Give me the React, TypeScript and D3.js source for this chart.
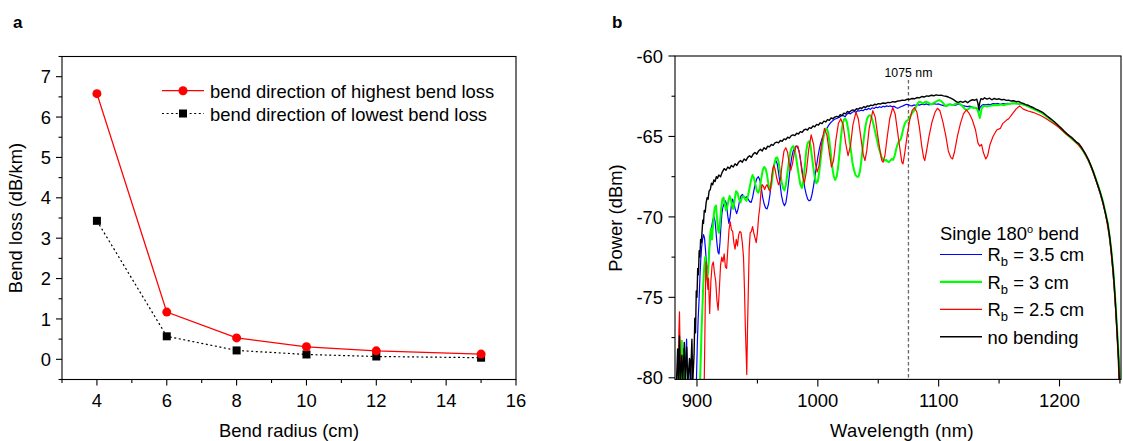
import React from 'react';
import * as d3 from 'd3';

// ---------- Panel a data ----------
const radius = [4, 6, 8, 10, 12, 15];
const lossHighest = [6.58, 1.17, 0.53, 0.31, 0.21, 0.13];
const lossLowest = [3.43, 0.57, 0.22, 0.12, 0.07, 0.04];
const aXMajor = [4, 6, 8, 10, 12, 14, 16];
const aXMinor = [3, 5, 7, 9, 11, 13, 15];
const aYMajor = [0, 1, 2, 3, 4, 5, 6, 7];
const aYMinor = [-0.5, 0.5, 1.5, 2.5, 3.5, 4.5, 5.5, 6.5, 7.5];

// ---------- Panel b data ----------
const bXMajor = [900, 1000, 1100, 1200];
const bXMinor = [950, 1050, 1150, 1250];
const bYMajor = [-60, -65, -70, -75, -80];
const bYMinor = [-62.5, -67.5, -72.5, -77.5];
const markerWavelength = 1075;

type P = [number, number];

const specNoBend: P[] = [
  [883,-80.3],[884,-78.2],[884.6,-80.3],[885.5,-77.4],[886.2,-80.3],[887.5,-78.6],[888.2,-80.3],[889.5,-77.8],[890.2,-80.3],[891.5,-78.1],[892.3,-80.3],[893.8,-78.8],[894.5,-80.3],[895.8,-77.6],[896.5,-80.3],[897.6,-78.5],[898.2,-76.3],[898.8,-77.2],[899.4,-74.6],[900,-75.0],[900.6,-73.2],[901.2,-73.6],[901.8,-72.1],[902.4,-72.5],[903,-71.4],[903.6,-71.6],[904.2,-70.9],[904.8,-70.2],[905.4,-70.4],[906,-69.6],[906.8,-69.7],[907.6,-69.1],[908.4,-68.8],[909.2,-68.9],[910,-68.4],[911,-68.3],[912,-67.9],[913,-68.0],[914,-67.7],[915,-67.8],[916,-67.5],[917,-67.6],[918,-67.4],[919.5,-67.5],[921,-67.2],[922.5,-67.0],[924,-67.1],[925.5,-66.9],[927,-67.0],[928.5,-66.8],[930,-66.9],[931.5,-66.7],[933,-66.8],[934.5,-66.6],[936,-66.5],[937.5,-66.6],[939,-66.4],[940.5,-66.5],[942,-66.3],[943.5,-66.2],[945,-66.3],[946.5,-66.1],[948,-66.0],[949.5,-66.1],[951,-65.9],[952.5,-65.8],[954,-65.9],[955.5,-65.7],[957,-65.8],[958.5,-65.6],[960,-65.65],[961.5,-65.5],[963,-65.55],[964.5,-65.4],[966,-65.35],[967.5,-65.4],[969,-65.25],[970.5,-65.3],[972,-65.15],[973.5,-65.2],[975,-65.05],[976.5,-65.1],[978,-64.95],[979.5,-64.9],[981,-64.95],[982.5,-64.8],[984,-64.85],[985.5,-64.7],[987,-64.75],[988.5,-64.6],[990,-64.55],[991.5,-64.6],[993,-64.45],[994.5,-64.5],[996,-64.35],[997.5,-64.4],[999,-64.25],[1000.5,-64.3],[1002,-64.15],[1003.5,-64.2],[1005,-64.05],[1006.5,-64.1],[1008,-63.95],[1009.5,-64.0],[1011,-63.85],[1012.5,-63.9],[1014,-63.8],[1015.5,-63.75],[1017,-63.8],[1018.5,-63.65],[1020,-63.7],[1021.5,-63.55],[1023,-63.6],[1024.5,-63.45],[1026,-63.5],[1027.5,-63.4],[1029,-63.35],[1030.5,-63.4],[1032,-63.28],[1033.5,-63.3],[1035,-63.22],[1036.5,-63.25],[1038,-63.15],[1039.5,-63.2],[1041,-63.1],[1042.5,-63.12],[1044,-63.05],[1045.5,-63.08],[1047,-63.0],[1048.5,-63.03],[1050,-62.96],[1052,-62.98],[1054,-62.92],[1056,-62.95],[1058,-62.88],[1060,-62.9],[1062,-62.84],[1064,-62.86],[1066,-62.8],[1068,-62.78],[1070,-62.74],[1072,-62.76],[1074,-62.68],[1076,-62.7],[1078,-62.64],[1080,-62.66],[1082,-62.58],[1084,-62.6],[1086,-62.52],[1088,-62.55],[1090,-62.48],[1092,-62.5],[1094,-62.44],[1096,-62.47],[1098,-62.42],[1100,-62.45],[1102,-62.43],[1104,-62.48],[1106,-62.5],[1108,-62.55],[1110,-62.62],[1112,-62.7],[1114,-62.8],[1116,-62.9],[1118,-62.82],[1120,-62.88],[1122,-62.8],[1124,-62.9],[1126,-62.78],[1128,-62.72],[1130,-62.75],[1131.5,-62.68],[1132.5,-62.95],[1133.2,-63.3],[1134,-62.9],[1135,-62.65],[1136.5,-62.7],[1138,-62.6],[1140,-62.68],[1142,-62.62],[1144,-62.72],[1146,-62.64],[1148,-62.7],[1150,-62.66],[1152,-62.72],[1154,-62.7],[1156,-62.76],[1158,-62.74],[1160,-62.8],[1162,-62.78],[1164,-62.84],[1166,-62.82],[1168,-62.9],[1170,-62.95],
  [1172,-63.02],[1174,-63.06],[1176,-63.14],[1178,-63.2],[1180,-63.28],[1182,-63.35],[1184,-63.42],[1186,-63.5],[1188,-63.62],[1190,-63.74],[1192,-63.86],[1194,-63.98],[1196,-64.1],[1198,-64.24],[1200,-64.38],[1202,-64.52],[1204,-64.68],[1206,-64.82],[1208,-64.95],[1210,-65.05],[1212,-65.2],[1214,-65.35],[1216,-65.45],[1218,-65.65],[1220,-65.9],[1222,-66.15],[1224,-66.45],[1226,-66.8],[1228,-67.2],[1230,-67.65],[1232,-68.1],[1234,-68.55],[1236,-69.1],[1238,-69.75],[1240,-70.45],[1241.5,-71.2],[1243,-72.2],[1244.5,-73.4],[1245.5,-74.4],[1246.5,-75.6],[1247.5,-76.9],[1248.3,-78.0],[1249,-79.0],[1249.6,-80.4]
];

const specR35: P[] = [
  [883,-80.3],[886,-80.3],[886.6,-79.0],[887.2,-80.3],[888.6,-78.2],[889.4,-80.3],[891.4,-77.6],[892.2,-80.3],[894.6,-78.9],[895.4,-80.3],[899.5,-80.3],[900.3,-77.8],[901,-76.3],[901.7,-75.2],[902.4,-73.8],[903.1,-72.7],[903.8,-71.9],[904.6,-71.4],[905.4,-71.1],[906.2,-71.3],[907,-72.0],[907.8,-72.9],[908.6,-73.5],[909.4,-73.0],[910.2,-72.0],[911,-71.2],[911.8,-70.8],[912.6,-70.4],[913.4,-70.1],[914.2,-70.0],[915,-70.3],[915.8,-71.0],[916.6,-71.7],[917.4,-72.2],[918.2,-72.3],[919,-71.6],[919.8,-70.6],[920.6,-69.8],[921.4,-69.4],[922.4,-69.2],[923.4,-69.0],[924.4,-69.2],[925.4,-69.9],[926.4,-70.4],[927.4,-70.0],[928.4,-69.3],[929.4,-68.9],[930.4,-69.1],[931.6,-69.5],[932.8,-69.8],[934,-69.5],[935.2,-69.0],[936.4,-68.7],[937.6,-68.6],[938.8,-68.75],[940,-68.8],[941.2,-68.75],[942.4,-68.9],[943.6,-69.05],[944.8,-69.1],[946,-68.8],[947.2,-68.3],[948.4,-67.9],[949.6,-67.6],[950.8,-67.5],[952,-67.7],[953.2,-68.2],[954.4,-68.8],[955.6,-69.2],[956.8,-69.45],[958,-69.5],[959.2,-69.2],[960.4,-68.6],[961.6,-67.8],[962.8,-67.1],[964,-66.7],[965.2,-66.5],[966.4,-66.7],[967.6,-67.3],[968.8,-68.0],[970,-68.7],[971.2,-69.1],[972.4,-69.3],[973.6,-69.1],[974.8,-68.5],[976,-67.7],[977.2,-66.9],[978.4,-66.3],[979.6,-65.9],[980.8,-65.7],[982,-65.6],[983.2,-65.65],[984.4,-65.9],[985.6,-66.4],[986.8,-67.0],[988,-67.6],[989.2,-68.2],[990.4,-68.6],[991.6,-68.9],[992.8,-69.0],[994,-68.95],[995.2,-68.6],[996.4,-68.1],[997.6,-67.5],[998.8,-66.9],[1000,-66.3],[1001.2,-65.8],[1002.4,-65.4],[1003.6,-65.1],[1004.8,-64.9],[1006,-64.7],[1007.5,-64.5],[1009,-64.3],[1010.5,-64.15],[1012,-64.05],[1013.5,-63.95],[1015,-63.9],[1016.5,-63.85],[1018,-63.8],[1019.5,-63.72],[1021,-63.7],[1022.5,-63.78],[1024,-63.62],[1025.5,-63.55],[1027,-63.6],[1028.5,-63.5],[1030,-63.45],[1031.5,-63.5],[1033,-63.4],[1034.5,-63.42],[1036,-63.36],[1037.5,-63.4],[1039,-63.3],[1040.5,-63.34],[1042,-63.25],[1043.5,-63.32],[1045,-63.22],[1046.5,-63.26],[1048,-63.18],[1049.5,-63.22],[1051,-63.15],[1052.5,-63.2],[1054,-63.12],[1055.5,-63.16],[1057,-63.1],[1058.5,-63.14],[1060,-63.1],[1061.5,-63.16],[1063,-63.12],[1064.5,-63.2],[1066,-63.25],[1067.5,-63.2],[1069,-63.14],[1070.5,-63.1],[1072,-63.04],[1073.5,-63.0],[1075,-63.04],[1076.5,-63.08],[1078,-63.1],[1079.5,-63.04],[1081,-63.06],[1082.5,-63.02],[1084,-63.05],[1086,-63.0],[1088,-63.02],[1090,-62.98],[1092,-63.04],[1094,-63.0],[1096,-62.96],[1098,-63.0],[1100,-62.98],[1102,-63.04],[1104,-63.08],[1106,-63.1],[1108,-63.04],[1110,-63.0],[1112,-63.04],[1114,-63.06],[1116,-63.0],[1118,-63.02],[1120,-63.08],[1122,-63.12],[1124,-63.15],[1126,-63.12],[1128,-63.18],[1130,-63.2],[1132,-63.25],[1133.2,-63.45],[1134.2,-63.2],[1135.5,-63.08],[1137,-63.02],[1139,-63.04],[1141,-63.0],[1143,-63.02],[1145,-62.96],[1147,-62.98],[1149,-62.95],[1151,-63.0],[1153,-62.96],[1155,-62.98],[1157,-62.94],[1159,-62.96],[1161,-62.94],[1163,-62.95],[1165,-62.96],[1167,-62.98],[1170,-63.02],
  [1172,-63.05],[1176,-63.18],[1180,-63.32],[1184,-63.46],[1188,-63.66],[1192,-63.9],[1196,-64.14],[1200,-64.42],[1204,-64.72],[1208,-64.98],[1212,-65.24],[1216,-65.5],[1220,-65.95],[1224,-66.5],[1228,-67.25],[1232,-68.15],[1236,-69.15],[1240,-70.5],[1243,-72.3],[1245.5,-74.6],[1247.5,-77.0],[1249,-79.0],[1249.7,-80.4]
];

const specR3: P[] = [
  [883,-80.3],[885,-80.3],[885.8,-78.8],[886.4,-80.3],[887.4,-77.7],[888.2,-80.3],[889.6,-78.3],[890.4,-80.3],[902.5,-80.3],[903.2,-78.6],[903.8,-77.0],[904.5,-75.6],[905.2,-74.2],[906,-73.1],[906.8,-72.5],[907.6,-73.3],[908.4,-73.9],[909.2,-73.4],[910,-72.3],[910.8,-71.2],[911.6,-70.7],[912.4,-71.4],[913.2,-70.6],[914,-69.8],[914.8,-69.4],[915.7,-69.3],[916.6,-70.1],[917.4,-70.8],[918.2,-71.0],[919,-70.4],[920,-69.5],[921,-68.9],[922,-68.8],[923,-69.2],[924,-69.6],[925,-69.4],[926,-69.0],[927,-68.7],[928,-68.9],[929,-69.3],[930,-69.5],[931,-69.0],[932.3,-68.4],[933.5,-68.5],[934.8,-68.9],[936,-69.1],[937.2,-68.8],[938.5,-68.7],[939.8,-68.9],[941,-69.0],[942.2,-68.7],[943.5,-68.2],[944.8,-67.7],[946,-67.4],[947.2,-67.6],[948.4,-68.0],[949.6,-68.4],[950.8,-68.5],[952,-68.2],[953.2,-67.6],[954.4,-67.1],[955.6,-66.9],[956.8,-67.0],[958,-67.4],[959.2,-68.0],[960.4,-68.3],[961.6,-68.0],[962.8,-67.3],[964,-66.7],[965.2,-66.35],[966.4,-66.3],[967.6,-66.6],[968.8,-67.2],[970,-67.8],[971.2,-68.2],[972.4,-68.35],[973.6,-68.0],[974.8,-67.3],[976,-66.6],[977.2,-66.0],[978.4,-65.7],[979.6,-65.6],[980.8,-65.8],[982,-66.3],[983.2,-66.9],[984.4,-67.5],[985.6,-68.0],[986.8,-68.2],[988,-67.8],[989.2,-66.9],[990.4,-65.9],[991.6,-65.4],[992.8,-65.3],[994,-65.6],[995.2,-66.3],[996.4,-67.0],[997.6,-67.6],[998.8,-67.9],[1000,-67.8],[1001.2,-67.2],[1002.4,-66.4],[1003.6,-65.6],[1004.8,-65.0],[1006,-64.6],[1007.2,-64.5],[1008.4,-64.7],[1009.6,-65.3],[1010.8,-66.1],[1012,-66.9],[1013.2,-67.5],[1014.4,-67.7],[1015.6,-67.5],[1016.8,-66.9],[1018,-66.0],[1019.2,-65.0],[1020.4,-64.3],[1021.6,-63.95],[1022.8,-63.9],[1024,-64.1],[1025.2,-64.6],[1026.4,-65.3],[1027.6,-66.0],[1028.8,-66.7],[1030,-67.1],[1031.2,-67.4],[1032.4,-67.5],[1033.6,-67.5],[1034.8,-67.2],[1036,-66.5],[1037.2,-65.7],[1038.4,-64.9],[1039.6,-64.3],[1040.8,-63.9],[1042,-63.72],[1043.2,-63.68],[1044.4,-63.8],[1045.6,-64.1],[1046.8,-64.5],[1048,-64.9],[1049.2,-65.3],[1050.4,-65.7],[1051.6,-66.0],[1052.8,-66.3],[1054,-66.45],[1055.2,-66.5],[1056.4,-66.45],[1057.6,-66.55],[1058.8,-66.6],[1060,-66.5],[1061.2,-66.4],[1062.4,-66.45],[1063.6,-66.2],[1064.8,-65.8],[1066,-65.5],[1067.2,-65.3],[1068.4,-65.2],[1069.6,-64.9],[1070.8,-64.5],[1072,-64.2],[1073.2,-64.05],[1074.4,-64.0],[1075.6,-63.9],[1076.8,-63.7],[1078,-63.55],[1079.2,-63.45],[1080.4,-63.3],[1081.6,-63.1],[1082.8,-62.92],[1084,-62.85],[1085.5,-62.88],[1087,-62.95],[1088.5,-62.86],[1090,-62.85],[1091.5,-62.9],[1093,-62.98],[1094.5,-63.0],[1096,-62.9],[1097.5,-62.85],[1099,-62.78],[1100.5,-62.74],[1102,-62.8],[1103.5,-62.9],[1105,-63.05],[1106.5,-63.12],[1108,-63.02],[1109.5,-63.0],[1111,-63.06],[1112.5,-63.02],[1114,-62.96],[1115.5,-62.94],[1117,-62.96],[1118.5,-63.02],[1120,-63.15],[1121.5,-63.28],[1123,-63.36],[1124.5,-63.3],[1126,-63.2],[1127.5,-63.18],[1129,-63.24],[1130.5,-63.22],[1132,-63.3],[1133,-63.55],[1134,-63.85],[1134.8,-63.6],[1135.6,-63.25],[1137,-63.12],[1138.5,-63.1],[1140,-63.14],[1142,-63.1],[1144,-63.08],[1146,-63.04],[1148,-63.06],[1150,-63.04],[1152,-63.02],[1154,-63.06],[1156,-63.0],[1158,-62.98],[1160,-62.96],[1162,-62.95],[1164,-62.95],[1166,-62.96],[1168,-62.98],[1170,-63.0],
  [1172,-63.06],[1176,-63.2],[1180,-63.34],[1184,-63.48],[1188,-63.68],[1192,-63.92],[1196,-64.16],[1200,-64.44],[1204,-64.74],[1208,-65.0],[1212,-65.26],[1216,-65.52],[1220,-65.95],[1224,-66.48],[1228,-67.2],[1232,-68.05],[1236,-69.05],[1240,-70.4],[1242.5,-71.8],[1244.5,-73.3],[1246.5,-75.5],[1248,-77.4],[1249.3,-79.0],[1250.2,-80.4]
];

const specR25: P[] = [
  [883,-80.3],[884.6,-80.3],[885,-77.2],[885.5,-75.9],[886,-78.2],[886.6,-80.3],[906,-80.3],[906.5,-77.5],[907,-74.5],[907.5,-72.8],[908,-73.5],[909,-74.5],[909.5,-73.8],[910.5,-76.0],[911.5,-74.0],[912.5,-73.0],[913.5,-72.8],[914.5,-73.5],[915.5,-74.0],[916.5,-75.2],[917.5,-75.8],[918.5,-74.5],[919.5,-73.0],[920.5,-72.5],[921.5,-72.8],[922.5,-72.3],[923.5,-73.1],[924.5,-73.2],[925.5,-72.0],[926.5,-70.8],[927.5,-70.3],[928.5,-70.8],[929.5,-70.9],[930.5,-71.6],[931.5,-72.0],[932.5,-71.4],[933.5,-71.8],[934.5,-71.1],[935.5,-70.9],[936.5,-71.0],[937.5,-71.6],[938.5,-72.5],[939.3,-74.5],[940,-76.8],[940.7,-78.5],[941.2,-79.8],[941.8,-77.0],[942.5,-74.5],[943.2,-72.0],[944,-71.0],[945,-70.9],[946,-70.6],[947,-71.0],[948,-71.3],[949,-71.6],[950,-71.0],[951,-70.0],[952,-69.4],[953,-68.4],[954,-68.0],[955,-68.1],[956,-68.3],[957,-68.1],[958,-68.0],[959.5,-68.3],[960.5,-68.4],[961.5,-67.8],[962.5,-67.1],[963.5,-66.8],[964.5,-67.0],[966,-67.6],[967.5,-68.0],[969,-67.7],[970.5,-66.7],[972,-65.9],[973.5,-65.7],[975,-66.0],[976.5,-66.8],[977.6,-67.1],[979,-66.7],[980.5,-66.0],[982,-65.6],[983.5,-65.6],[985,-66.1],[987,-67.3],[988.8,-67.9],[990.5,-67.2],[992.5,-65.8],[994.5,-64.9],[996.5,-65.5],[998,-66.7],[999.5,-67.2],[1001,-66.8],[1003,-65.5],[1005.5,-64.5],[1007.5,-64.9],[1009.5,-66.0],[1011.3,-66.9],[1013,-66.5],[1015,-65.2],[1017,-64.2],[1019,-63.9],[1021,-64.3],[1023,-65.4],[1025,-66.2],[1027,-65.6],[1029,-64.3],[1031.5,-63.5],[1033.5,-63.9],[1035.5,-65.0],[1037.5,-66.1],[1039,-66.5],[1040.5,-65.9],[1042.5,-64.5],[1045.5,-63.4],[1047.5,-63.8],[1049.5,-64.9],[1051.5,-65.9],[1053,-66.5],[1054,-66.6],[1055.5,-66.2],[1057.5,-65.0],[1059.5,-63.9],[1062,-63.2],[1064,-63.6],[1066,-64.7],[1068,-65.8],[1069.5,-66.6],[1070.5,-66.7],[1072,-66.0],[1074,-64.9],[1076,-64.0],[1078,-63.4],[1080,-63.2],[1082,-63.5],[1084,-64.4],[1086,-65.6],[1087.5,-66.3],[1088.5,-66.5],[1090,-65.9],[1092,-65.0],[1094.5,-64.1],[1097,-63.5],[1099,-63.25],[1101,-63.4],[1103.5,-64.1],[1106,-65.0],[1108,-65.9],[1110,-66.3],[1111.5,-66.4],[1113,-66.0],[1115.5,-65.0],[1118,-64.2],[1120.5,-63.6],[1123,-63.35],[1125.5,-63.6],[1128,-64.0],[1130.5,-64.6],[1132.5,-65.4],[1134,-65.6],[1135.5,-65.5],[1137,-66.0],[1139,-66.4],[1140.5,-66.2],[1142.5,-65.5],[1145,-65.0],[1148,-64.6],[1151,-64.5],[1153,-64.2],[1156,-64.0],[1158,-63.9],[1161,-63.6],[1164,-63.3],[1167,-63.1],
  [1170,-63.3],[1174,-63.42],[1178,-63.5],[1182,-63.62],[1186,-63.76],[1190,-63.95],[1194,-64.15],[1198,-64.35],[1202,-64.6],[1206,-64.88],[1210,-65.1],[1214,-65.4],[1218,-65.72],[1222,-66.2],[1226,-66.85],[1230,-67.7],[1234,-68.6],[1238,-69.8],[1241.5,-71.3],[1244.5,-73.6],[1246.5,-75.8],[1248.3,-78.4],[1249.4,-80.4]
];

const FONT = 'Arial, "Liberation Sans", Helvetica, sans-serif';
const FS = 18.4;
const GREEN = '#00ff00';

export default function App() {
  // Panel a scales
  const xA = d3.scaleLinear().domain([3, 16]).range([62, 516]);
  const yA = d3.scaleLinear().domain([-0.5, 7.5]).range([379.5, 56.5]);
  const lineA = d3.line<number>().x((_, i) => xA(radius[i])).y((d) => yA(d));

  // Panel b scales
  const xB = d3.scaleLinear().domain([881.8, 1250.9]).range([675, 1121]);
  const yB = d3.scaleLinear().domain([-80.1, -60]).range([379.4, 56]);
  const lineB = d3.line<P>().x((d) => xB(d[0])).y((d) => yB(d[1]));

  const aBottom = yA.range()[0];
  const aLeft = xA.range()[0];
  const bBottom = yB.range()[0];
  const bLeft = xB.range()[0];

  const series = [
    { data: specR35, color: '#0000ff', w: 1.2 },
    { data: specR3, color: GREEN, w: 2.0 },
    { data: specR25, color: '#ff0000', w: 1.2 },
    { data: specNoBend, color: '#000000', w: 1.4 },
  ];

  const legendB = [
    { label: '3.5 cm', color: '#0000ff', w: 1.2, sub: true },
    { label: '3 cm', color: GREEN, w: 2.2, sub: true },
    { label: '2.5 cm', color: '#ff0000', w: 1.2, sub: true },
    { label: 'no bending', color: '#000000', w: 1.4, sub: false },
  ];

  return (
    <svg
      width={1123}
      height={441}
      style={{ position: 'absolute', left: 0, top: 0, background: '#fff' }}
      fontFamily={FONT}
    >
      <rect x={0} y={0} width={1123} height={441} fill="#fff" />
      {/* ================= Panel a ================= */}
      <text x={13} y={28} fontSize={17} fontWeight="bold">a</text>
      <rect x={aLeft} y={yA.range()[1]} width={xA.range()[1] - aLeft} height={aBottom - yA.range()[1]} fill="none" stroke="#000" strokeWidth={1.1} />
      {aYMajor.map((v) => (
        <g key={'aym' + v}>
          <line x1={aLeft - 6} x2={aLeft} y1={yA(v)} y2={yA(v)} stroke="#000" strokeWidth={1.1} />
          <text x={51} y={yA(v)} dy="0.36em" textAnchor="end" fontSize={FS}>{v}</text>
        </g>
      ))}
      {aYMinor.map((v) => (
        <line key={'aymn' + v} x1={aLeft - 3.5} x2={aLeft} y1={yA(v)} y2={yA(v)} stroke="#000" strokeWidth={1.1} />
      ))}
      {aXMajor.map((v) => (
        <g key={'axm' + v}>
          <line x1={xA(v)} x2={xA(v)} y1={aBottom} y2={aBottom + 6} stroke="#000" strokeWidth={1.1} />
          <text x={xA(v)} y={407} textAnchor="middle" fontSize={FS}>{v}</text>
        </g>
      ))}
      {aXMinor.map((v) => (
        <line key={'axmn' + v} x1={xA(v)} x2={xA(v)} y1={aBottom} y2={aBottom + 3.5} stroke="#000" strokeWidth={1.1} />
      ))}
      <text x={289} y={437} textAnchor="middle" fontSize={FS}>Bend radius (cm)</text>
      <text transform="translate(22,218) rotate(-90)" textAnchor="middle" fontSize={FS}>Bend loss (dB/km)</text>

      <path d={lineA(lossLowest) || ''} fill="none" stroke="#000" strokeWidth={1.2} strokeDasharray="2,2.6" />
      <path d={lineA(lossHighest) || ''} fill="none" stroke="#ff0000" strokeWidth={1.3} />
      {lossLowest.map((v, i) => (
        <rect key={'sq' + i} x={xA(radius[i]) - 4} y={yA(v) - 4} width={8} height={8} fill="#000" />
      ))}
      {lossHighest.map((v, i) => (
        <circle key={'ci' + i} cx={xA(radius[i])} cy={yA(v)} r={4.5} fill="#ff0000" />
      ))}
      {/* legend a */}
      <line x1={162} x2={204} y1={90.7} y2={90.7} stroke="#ff0000" strokeWidth={1.3} />
      <circle cx={183} cy={90.7} r={4.5} fill="#ff0000" />
      <text x={210} y={98} fontSize={FS}>bend direction of highest bend loss</text>
      <line x1={162} x2={204} y1={113.5} y2={113.5} stroke="#000" strokeWidth={1.2} strokeDasharray="2,2.6" />
      <rect x={179} y={109.5} width={8} height={8} fill="#000" />
      <text x={210} y={121} fontSize={FS}>bend direction of lowest bend loss</text>

      {/* ================= Panel b ================= */}
      <text x={612} y={28} fontSize={17} fontWeight="bold">b</text>
      <defs>
        <clipPath id="clipB">
          <rect x={bLeft} y={yB.range()[1]} width={xB.range()[1] - bLeft} height={bBottom - yB.range()[1]} />
        </clipPath>
      </defs>
      <line x1={xB(markerWavelength)} x2={xB(markerWavelength)} y1={80} y2={bBottom} stroke="#666" strokeWidth={1.3} strokeDasharray="3.5,2.5" />
      <text x={xB(markerWavelength)} y={76.5} textAnchor="middle" fontSize={12.3}>1075 nm</text>
      <g clipPath="url(#clipB)">
        {series.map((s, i) => (
          <path key={'s' + i} d={lineB(s.data) || ''} fill="none" stroke={s.color} strokeWidth={s.w} strokeLinejoin="round" />
        ))}
      </g>
      <rect x={bLeft} y={yB.range()[1]} width={xB.range()[1] - bLeft} height={bBottom - yB.range()[1]} fill="none" stroke="#000" strokeWidth={1.1} />
      {bYMajor.map((v) => (
        <g key={'bym' + v}>
          <line x1={bLeft - 6.5} x2={bLeft} y1={yB(v)} y2={yB(v)} stroke="#000" strokeWidth={1.1} />
          <text x={663} y={yB(v)} dy="0.36em" textAnchor="end" fontSize={FS}>{v}</text>
        </g>
      ))}
      {bYMinor.map((v) => (
        <line key={'bymn' + v} x1={bLeft - 3.5} x2={bLeft} y1={yB(v)} y2={yB(v)} stroke="#000" strokeWidth={1.1} />
      ))}
      {bXMajor.map((v) => (
        <g key={'bxm' + v}>
          <line x1={xB(v)} x2={xB(v)} y1={bBottom} y2={bBottom + 7} stroke="#000" strokeWidth={1.1} />
          <text x={xB(v)} y={407} textAnchor="middle" fontSize={FS}>{v}</text>
        </g>
      ))}
      {bXMinor.map((v) => (
        <line key={'bxmn' + v} x1={xB(v)} x2={xB(v)} y1={bBottom} y2={bBottom + 4} stroke="#000" strokeWidth={1.1} />
      ))}
      <text x={902} y={437} textAnchor="middle" fontSize={FS} letterSpacing={0.3}>Wavelength (nm)</text>
      <text transform="translate(622,218) rotate(-90)" textAnchor="middle" fontSize={FS}>Power (dBm)</text>

      {/* legend b */}
      <text x={940} y={239.5} fontSize={FS}>
        Single 180<tspan dy={-7} fontSize={11}>o</tspan><tspan dy={7}> bend</tspan>
      </text>
      {legendB.map((l, i) => {
        const ly = 254.5 + i * 27.4;
        return (
          <g key={'lb' + i}>
            <line x1={940} x2={982} y1={ly} y2={ly} stroke={l.color} strokeWidth={l.w} />
            {l.sub ? (
              <text x={987.5} y={ly + 6.8} fontSize={FS}>
                R<tspan dy={5} fontSize={13}>b</tspan><tspan dy={-5}>{' = ' + l.label}</tspan>
              </text>
            ) : (
              <text x={987.5} y={ly + 6.8} fontSize={FS}>{l.label}</text>
            )}
          </g>
        );
      })}
    </svg>
  );
}
